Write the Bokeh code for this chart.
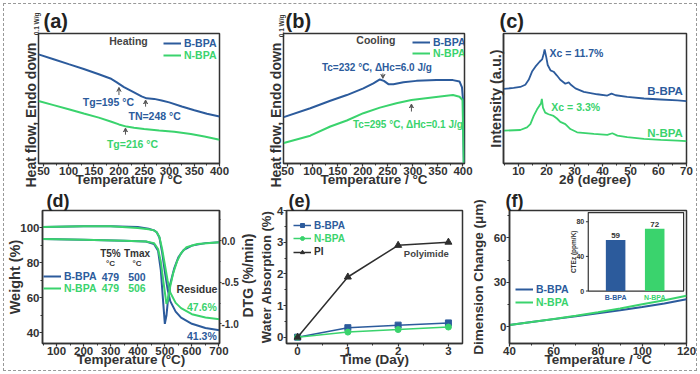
import math
from bokeh.plotting import figure
from bokeh.layouts import row, column
from bokeh.models import (Range1d, LinearAxis, FixedTicker, Arrow, VeeHead, Title,
                          Legend, LegendItem, PrintfTickFormatter, ColumnDataSource)
from bokeh.core.properties import value
from bokeh.embed import file_html
from bokeh.resources import INLINE

BLUE = "#2c5b9c"
GREEN = "#3ad36d"
BLACK = "#2e2e2e"
DARK = "#333333"
NOTE = "#444444"
FONT = "Liberation Sans"

# ---------------- data ----------------
# (a) DSC heating (W/g, offset)
a_temp_b = [40, 70, 100, 130, 160, 183, 195, 210, 230, 245, 255, 270, 285, 300, 325, 350, 375, 400]
a_hf_b = [1.000, 0.955, 0.910, 0.866, 0.818, 0.779, 0.745, 0.700, 0.652, 0.615, 0.597, 0.592,
          0.578, 0.560, 0.522, 0.488, 0.455, 0.430]
a_temp_n = [40, 70, 100, 130, 160, 185, 200, 215, 230, 250, 280, 310, 343, 370, 400]
a_hf_n = [0.573, 0.535, 0.497, 0.458, 0.420, 0.382, 0.358, 0.338, 0.328, 0.316, 0.302, 0.290,
          0.270, 0.247, 0.218]
a_xticks = [50, 100, 150, 200, 250, 300, 350, 400]

# (b) DSC cooling
b_temp_b = [42, 95, 135, 168, 201, 221, 234, 242, 251, 261, 281, 307, 347, 380, 393, 398, 400, 401.5]
b_hf_b = [0.425, 0.506, 0.575, 0.627, 0.688, 0.734, 0.770, 0.757, 0.727, 0.727, 0.745, 0.757,
          0.764, 0.764, 0.752, 0.697, 0.582, 0.010]
b_temp_n = [42, 95, 135, 168, 201, 234, 267, 297, 334, 367, 380, 393, 399, 401.5]
b_hf_n = [0.188, 0.255, 0.339, 0.394, 0.461, 0.512, 0.552, 0.582, 0.603, 0.621, 0.627, 0.612,
          0.582, 0.006]

# (c) XRD
c_theta_b = [4.6, 8.2, 10.6, 12.4, 13.6, 14.8, 16.0, 17.5, 18.4, 19.0, 19.3, 19.9, 20.4, 21.4, 22.5,
             23.7, 24.9, 26.7, 27.9, 28.8, 30.3, 33.3, 38.1, 41.7, 43.2, 44.7, 48.8, 54.8, 60.8, 66.8, 70.0]
c_int_b = [757, 767, 777, 800, 850, 933, 983, 1033, 1057, 1117, 1157, 1077, 1000, 945, 932,
           893, 850, 810, 823, 797, 763, 727, 703, 690, 710, 693, 677, 660, 650, 640, 633]
c_theta_n = [4.6, 10.6, 13.0, 14.2, 15.4, 16.6, 17.5, 18.0, 18.3, 18.7, 19.5, 20.7, 22.5, 23.7, 24.9,
             26.7, 28.5, 30.9, 36.9, 41.7, 43.5, 45.3, 48.8, 54.8, 60.8, 66.8, 70.0]
c_int_n = [333, 340, 367, 400, 483, 550, 590, 610, 657, 567, 517, 500, 483, 457, 423,
           400, 350, 317, 300, 290, 307, 283, 267, 250, 240, 233, 227]
c_xticks = [10, 20, 30, 40, 50, 60, 70]

# (d) TGA
d_temp = [48, 100, 200, 300, 400, 440, 460, 470, 480, 490, 500, 510, 520, 540, 560, 600, 650, 702]
d_wt_b = [100.5, 100.7, 101.0, 101.0, 100.5, 99.5, 98.6, 97.5, 94.5, 86.0, 75.0, 65.0, 58.0, 52.0,
          48.5, 45.0, 42.6, 41.3]
d_wt_n = [100.5, 100.7, 101.0, 101.0, 100.0, 99.3, 98.6, 97.5, 94.8, 88.0, 79.0, 70.0, 63.0, 57.0,
          54.0, 50.5, 48.6, 47.6]
d_dtg_temp_b = [48, 200, 350, 430, 460, 475, 485, 493, 500, 506, 512, 520, 535, 550, 570, 600, 650, 702]
d_dtg_b = [0.02, 0.01, 0.0, -0.01, -0.04, -0.12, -0.35, -0.70, -1.00, -0.90, -0.70, -0.52, -0.33,
           -0.20, -0.11, -0.06, -0.03, -0.02]
d_dtg_temp_n = [48, 200, 350, 430, 460, 475, 485, 495, 506, 512, 520, 530, 545, 560, 580, 620, 702]
d_dtg_n = [0.02, 0.01, 0.0, -0.01, -0.03, -0.10, -0.25, -0.50, -0.76, -0.70, -0.55, -0.40, -0.25,
           -0.15, -0.08, -0.04, -0.02]
d_xticks = [100, 200, 300, 400, 500, 600, 700]
d_yticks = [40, 60, 80, 100]
d_dtg_ticks = [-1.0, -0.5, 0.0]
d_t5 = ["479", "479"]
d_tmax = ["500", "506"]
d_residue = ["41.3%", "47.6%"]

# (e) water absorption
e_day = [0, 1, 2, 3]
e_b = [0.0, 0.30, 0.38, 0.45]
e_n = [0.0, 0.16, 0.24, 0.32]
e_pi = [0.0, 1.90, 2.90, 3.00]
e_yticks = [0, 1, 2, 3, 4]

# (f) dimension change + CTE inset
f_temp = [40, 50, 60, 70, 80, 90, 100, 110, 120]
f_b = [1.0, 3.0, 5.0, 7.0, 9.0, 11.0, 13.2, 15.6, 18.5]
f_n = [1.0, 3.0, 5.1, 7.3, 9.7, 12.2, 15.0, 17.8, 20.8]
f_xticks = [40, 60, 80, 100, 120]
f_yticks = [0, 30, 60]
cte_cats = ["B-BPA", "N-BPA"]
cte_vals = [59, 72]
cte_ticks = [0, 40, 80]


# ---------------- helpers ----------------
def make_fig(w, h, bl, br, bt, bb, xr, yr, letter, offset, lsize, lstand, lvalign):
    p = figure(width=w, height=h, x_range=Range1d(*xr), y_range=Range1d(*yr),
               output_backend="svg", toolbar_location=None, title=letter,
               min_border_left=bl, min_border_right=br, min_border_top=bt, min_border_bottom=bb)
    p.title.align = "left"
    p.title.vertical_align = lvalign
    p.title.offset = offset
    p.title.standoff = lstand
    p.title.text_font = FONT
    p.title.text_font_size = lsize
    p.title.text_font_style = "bold"
    p.title.text_color = "#222222"
    return p


def style(p):
    p.grid.visible = False
    p.outline_line_color = DARK
    p.outline_line_width = 1.5
    p.background_fill_color = "white"
    p.border_fill_color = "white"
    for ax in p.axis:
        ax.axis_line_color = DARK
        ax.axis_line_width = 1.5
        ax.major_tick_line_color = DARK
        ax.major_tick_line_width = 1.2
        ax.minor_tick_line_color = DARK
        ax.minor_tick_line_width = 1
        ax.major_tick_in = 0
        ax.major_tick_out = 3
        ax.minor_tick_in = 0
        ax.minor_tick_out = 2
        ax.major_label_text_font = FONT
        ax.major_label_text_font_style = "bold"
        ax.major_label_text_font_size = "11.5px"
        ax.major_label_text_color = DARK
        ax.major_label_standoff = 0
        ax.axis_label_text_font = FONT
        ax.axis_label_text_font_style = "bold"
        ax.axis_label_text_color = DARK


def title_axis(ax, text, size, standoff):
    ax.axis_label = text
    ax.axis_label_text_font_size = size
    ax.axis_label_standoff = standoff


def bare_axis(ax):
    ax.ticker = FixedTicker(ticks=[], minor_ticks=[])
    ax.major_tick_out = 0
    ax.minor_tick_out = 0


def side_title(p, text, size, align, offset, standoff, valign="bottom"):
    t = Title(text=text, align=align, offset=offset, vertical_align=valign, text_font=FONT,
              text_font_size=size, text_font_style="bold", text_color=DARK)
    try:
        t.standoff = standoff
    except Exception:
        t.standoff = 0
    p.add_layout(t, "left")


def dtext(p, xs, ys, texts, size, color, align="center", baseline="middle"):
    p.text(x=xs, y=ys, text=texts, text_font=value(FONT), text_font_size=value(size),
           text_font_style=value("bold"), text_color=color, text_align=align,
           text_baseline=baseline)


def arrow(p, x0, y0, x1, y1):
    p.add_layout(Arrow(end=VeeHead(size=4, line_color="#555555", fill_color="#555555", line_width=1),
                       x_start=x0, y_start=y0, x_end=x1, y_end=y1,
                       line_color="#555555", line_width=1))


def add_leg(p, renderers, label, color, vx, vy, size="10.5px"):
    leg = Legend(items=[LegendItem(label=label, renderers=renderers)], location=(vx, vy),
                 label_text_color=color, label_text_font=FONT, label_text_font_style="bold",
                 label_text_font_size=size, glyph_width=18, glyph_height=10, label_height=10,
                 label_standoff=3, padding=0, margin=0, spacing=0,
                 border_line_alpha=0, background_fill_alpha=0)
    p.add_layout(leg)


# ---------------- (a) ----------------
pa = make_fig(246, 186, 34, 31, 29, 27, (40, 400), (0, 1.191), "(a)", 5, "20px", 3, "bottom")
ra_b = pa.line(a_temp_b, a_hf_b, line_color=BLUE, line_width=2)
ra_n = pa.line(a_temp_n, a_hf_n, line_color=GREEN, line_width=2)
pa.xaxis.ticker = FixedTicker(ticks=a_xticks, minor_ticks=[t + 25 for t in a_xticks[:-1]])
style(pa)
pa.yaxis.visible = False
side_title(pa, "0.1 W/g", "6.5px", "right", -21, -10.5, "top")
side_title(pa, "Heat flow, Endo down", "14px", "left", -24, 0)
title_axis(pa.xaxis[0], "Temperature / °C", "13.5px", -6)
dtext(pa, [219], [1.118], ["Heating"], "10.5px", NOTE)
add_leg(pa, [ra_b], "B-BPA", BLUE, 125, 114.5)
add_leg(pa, [ra_n], "N-BPA", GREEN, 125, 102.5)
dtext(pa, [179, 271], [0.559, 0.436], ["Tg=195 °C", "TN=248 °C"], "10.5px", BLUE)
dtext(pa, [227], [0.182], ["Tg=216 °C"], "10.5px", GREEN)
arrow(pa, 200, 0.627, 200, 0.697)
arrow(pa, 253, 0.521, 253, 0.582)
arrow(pa, 213, 0.264, 213, 0.325)

# ---------------- (b) ----------------
pb = make_fig(228, 186, 33, 14, 29, 27, (41.5, 403), (0, 1.191), "(b)", 2, "20px", 3, "bottom")
rb_b = pb.line(b_temp_b, b_hf_b, line_color=BLUE, line_width=2)
rb_n = pb.line(b_temp_n, b_hf_n, line_color=GREEN, line_width=2)
pb.xaxis.ticker = FixedTicker(ticks=a_xticks, minor_ticks=[t + 25 for t in a_xticks[:-1]])
style(pb)
pb.yaxis.visible = False
side_title(pb, "0.1 W/g", "6.5px", "right", -19, -10.5, "top")
side_title(pb, "Heat flow, Endo down", "14px", "left", -24, 0)
title_axis(pb.xaxis[0], "Temperature / °C", "13.5px", -6)
dtext(pb, [226], [1.136], ["Cooling"], "10.5px", NOTE)
add_leg(pb, [rb_b], "B-BPA", BLUE, 129, 114.8)
add_leg(pb, [rb_n], "N-BPA", GREEN, 129, 103.8)
dtext(pb, [228], [0.882], ["Tc=232 °C, ΔHc=6.0 J/g"], "10px", BLUE)
dtext(pb, [290], [0.355], ["Tc=295 °C, ΔHc=0.1 J/g"], "10px", GREEN)
arrow(pb, 240, 0.825, 240, 0.78)
arrow(pb, 297, 0.476, 297, 0.545)

# ---------------- (c) ----------------
pc = make_fig(218, 186, 25, 10, 29, 27, (4.6, 70), (0, 1320), "(c)", -4, "20px", 3, "bottom")
pc.line(c_theta_b, c_int_b, line_color=BLUE, line_width=1.8)
pc.line(c_theta_n, c_int_n, line_color=GREEN, line_width=1.8)
pc.xaxis.ticker = FixedTicker(ticks=c_xticks, minor_ticks=[5] + [t + 5 for t in c_xticks[:-1]])
style(pc)
bare_axis(pc.yaxis[0])
title_axis(pc.yaxis[0], "Intensity (a.u.)", "14.5px", 0)
title_axis(pc.xaxis[0], "2θ (degree)", "13.5px", -6)
dtext(pc, [21.0], [1120], ["Xc = 11.7%"], "10.5px", BLUE, align="left")
dtext(pc, [21.7], [570], ["Xc = 3.3%"], "10.5px", GREEN, align="left")
dtext(pc, [68.7], [735], ["B-BPA"], "11.5px", BLUE, align="right")
dtext(pc, [68.7], [310], ["N-BPA"], "11.5px", GREEN, align="right")

# ---------------- (d) ----------------
pd_ = make_fig(237, 180, 35, 22, 19, 27, (48, 702), (33.7, 110), "(d)", 4, "18px", -5, "top")
pd_.extra_y_ranges = {"dtg": Range1d(-1.236, 0.362)}
ax2 = LinearAxis(y_range_name="dtg",
                 ticker=FixedTicker(ticks=d_dtg_ticks, minor_ticks=[-0.75, -0.25, 0.25]),
                 formatter=PrintfTickFormatter(format="%.1f"))
pd_.add_layout(ax2, "right")
rd_b = pd_.line(d_temp, d_wt_b, line_color=BLUE, line_width=2)
rd_n = pd_.line(d_temp, d_wt_n, line_color=GREEN, line_width=2)
pd_.line(d_dtg_temp_b, d_dtg_b, line_color=BLUE, line_width=2, y_range_name="dtg")
pd_.line(d_dtg_temp_n, d_dtg_n, line_color=GREEN, line_width=2, y_range_name="dtg")
pd_.xaxis.ticker = FixedTicker(ticks=d_xticks, minor_ticks=[t - 50 for t in d_xticks])
pd_.yaxis[0].ticker = FixedTicker(ticks=d_yticks, minor_ticks=[50, 70, 90])
style(pd_)
ax2.major_label_text_font_size = "10px"
ax2.major_tick_out = 2
ax2.minor_tick_out = 1
title_axis(pd_.yaxis[0], "Weight (%)", "14.5px", -6)
title_axis(pd_.xaxis[0], "Temperature (°C)", "13.5px", -6)
add_leg(pd_, [rd_b], "B-BPA", BLUE, 1, 60.8)
add_leg(pd_, [rd_n], "N-BPA", GREEN, 1, 49.2)
dtext(pd_, [299, 397], [85.5, 85.5], ["T5%", "Tmax"], "10px", DARK)
dtext(pd_, [299, 397], [79.8, 79.8], ["°C", "°C"], "8px", DARK)
dtext(pd_, [299, 397], [72.0, 72.0], [d_t5[0], d_tmax[0]], "10.5px", BLUE)
dtext(pd_, [299, 397], [65.4, 65.4], [d_t5[1], d_tmax[1]], "10.5px", GREEN)
dtext(pd_, [619], [65.0], ["Residue"], "10.5px", DARK)
dtext(pd_, [692], [54.7], [d_residue[1]], "10.5px", GREEN, align="right")
dtext(pd_, [692], [38.1], [d_residue[0]], "10.5px", BLUE, align="right")

# ---------------- (e) ----------------
pe = make_fig(226, 180, 42, 5, 19, 27, (-0.22, 3.28), (-0.2, 4), "(e)", 2, "18px", -5, "top")
re_b1 = pe.line(e_day, e_b, line_color=BLUE, line_width=1.5)
re_b2 = pe.scatter(e_day, e_b, marker="square", size=6, color=BLUE)
re_n1 = pe.line(e_day, e_n, line_color=GREEN, line_width=1.5)
re_n2 = pe.scatter(e_day, e_n, marker="circle", size=6, color=GREEN)
re_p1 = pe.line(e_day, e_pi, line_color=BLACK, line_width=1.5)
re_p2 = pe.scatter(e_day, e_pi, marker="triangle", size=7, color=BLACK)
pe.xaxis.ticker = FixedTicker(ticks=e_day, minor_ticks=[0.5, 1.5, 2.5])
pe.yaxis.ticker = FixedTicker(ticks=e_yticks, minor_ticks=[0.5, 1.5, 2.5, 3.5])
style(pe)
title_axis(pe.yaxis[0], "Water Absorption (%)", "13px", 0)
title_axis(pe.xaxis[0], "Time (Day)", "13.5px", -6)
# right-axis title of panel (d), drawn in the gutter between (d) and (e)
side_title(pe, "DTG (%/min)", "14px", "left", 26, -3, "top")
add_leg(pe, [re_b1, re_b2], "B-BPA", BLUE, 7, 112.2, size="10px")
add_leg(pe, [re_n1, re_n2], "N-BPA", GREEN, 7, 99.2, size="10px")
add_leg(pe, [re_p1, re_p2], "PI", BLACK, 7, 85.8, size="10px")
dtext(pe, [2.56], [2.65], ["Polyimide"], "9.5px", NOTE)

# ---------------- (f) ----------------
pf = make_fig(229, 180, 37, 10, 20, 27, (40, 120), (-11.5, 78.5), "(f)", -4, "18px", -4, "top")
rf_b = pf.line(f_temp, f_b, line_color=BLUE, line_width=2)
rf_n = pf.line(f_temp, f_n, line_color=GREEN, line_width=2)
pf.xaxis.ticker = FixedTicker(ticks=f_xticks, minor_ticks=[50, 70, 90, 110])
pf.yaxis.ticker = FixedTicker(ticks=f_yticks, minor_ticks=[15, 45, 75])
style(pf)
title_axis(pf.yaxis[0], "Dimension Change (μm)", "13.5px", 5)
title_axis(pf.xaxis[0], "Temperature / °C", "13.5px", -6)
add_leg(pf, [rf_b], "B-BPA", BLUE, 6, 47.7)
add_leg(pf, [rf_n], "N-BPA", GREEN, 6, 34.7)

# inset bar chart (own coordinate system mapped into panel f)
xs = Range1d(0.3, 2.74)
ys = Range1d(0, 90.6)
sub = pf.subplot(x_source=xs, y_source=ys, x_target=Range1d(75.6, 118.7), y_target=Range1d(24.0, 77.1))
sub.quad(left=[xs.start], right=[xs.end], bottom=[ys.start], top=[ys.end],
         fill_color="white", line_color=DARK, line_width=1.2)
cte_x = list(range(1, len(cte_cats) + 1))
cte_src = ColumnDataSource(dict(x=cte_x, top=cte_vals, cat=cte_cats, color=[BLUE, GREEN],
                                lab=[str(v) for v in cte_vals]))
sub.vbar(x="x", top="top", bottom=0, width=0.5, fill_color="color", line_color=None, source=cte_src)
sub.segment(x0=[xs.start] * len(cte_ticks), x1=[xs.start - 0.06] * len(cte_ticks),
            y0=cte_ticks, y1=cte_ticks, line_color=DARK, line_width=1)
sub.text(x=[xs.start] * len(cte_ticks), y=cte_ticks, text=[str(t) for t in cte_ticks], x_offset=-4,
         text_font=value(FONT), text_font_size=value("7px"), text_font_style=value("bold"),
         text_color=DARK, text_align="right", text_baseline="middle")
sub.text(x=[xs.start], y=[(ys.start + ys.end) / 2], text=["CTEz (ppm/K)"], x_offset=-15,
         angle=math.pi / 2,
         text_font=value(FONT), text_font_size=value("6.5px"), text_font_style=value("bold"),
         text_color=DARK, text_align="center", text_baseline="middle")
sub.text(x="x", y=0, text="cat", y_offset=3, source=cte_src,
         text_font=value(FONT), text_font_size=value("7px"), text_font_style=value("bold"),
         text_color="color", text_align="center", text_baseline="top")
sub.text(x="x", y="top", text="lab", y_offset=-2, source=cte_src,
         text_font=value(FONT), text_font_size=value("8px"), text_font_style=value("bold"),
         text_color=DARK, text_align="center", text_baseline="bottom")

layout = column(row(pa, pb, pc), row(pd_, pe, pf),
                styles={"margin": "3px", "border": "1px dashed #999999"})

open("out.html", "w").write(file_html(layout, INLINE))
